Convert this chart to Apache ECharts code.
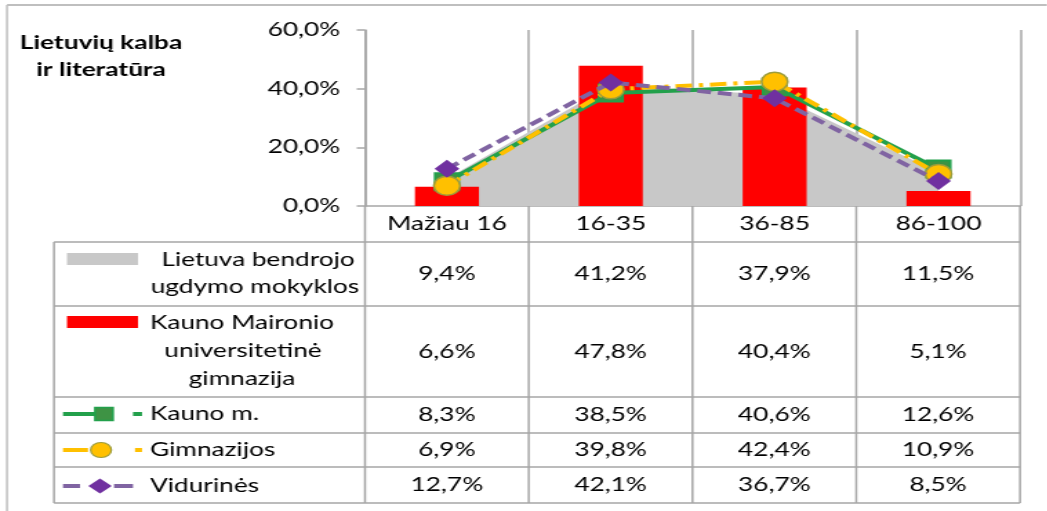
<!DOCTYPE html>
<html>
<head>
<meta charset="utf-8">
<script src="https://cdn.jsdelivr.net/npm/echarts@6/dist/echarts.min.js"></script>
<style>
html,body{margin:0;padding:0;background:#fff;overflow:hidden;}
#wrap{width:1047px;height:511px;overflow:hidden;position:relative;}
#chart{height:511px;transform-origin:0 0;}
</style>
</head>
<body>
<div id="wrap"><div id="chart"></div></div>
<script>
// ---- data ----
const categories = ['Mažiau 16', '16-35', '36-85', '86-100'];
const lietuva = [9.4, 41.2, 37.9, 11.5];
const maironio = [6.6, 47.8, 40.4, 5.1];
const kaunoM = [8.3, 38.5, 40.6, 12.6];
const gimnazijos = [6.9, 39.8, 42.4, 10.9];
const vidurines = [12.7, 42.1, 36.7, 8.5];
const yTicks = [0, 20, 40, 60];
const seriesNames = ['Lietuva bendrojo ugdymo mokyklos', 'Kauno Maironio universitetinė gimnazija', 'Kauno m.', 'Gimnazijos', 'Vidurinės'];
const titleLines = ['Lietuvių kalba', 'ir literatūra'];

// ---- layout (horizontal stretch like the reference) ----
const S = 1.38;
const W = 1047, H = 511;
const WL = W / S;
const L = x => x / S;
const el = document.getElementById('chart');
el.style.width = WL + 'px';
el.style.transform = 'scaleX(' + S + ')';

const FONT = 'Lato';
const fs = 19;
const gridColor = '#a6a6a6';
const gridLeft = L(365), gridRight = L(1020);
const plotTop = 30, plotBottom = 206;

const fmt = v => v.toFixed(1).replace('.', ',') + '%';

const chart = echarts.init(el, null, {renderer: 'canvas'});

const option = {
  animation: false,
  backgroundColor: '#fff',
  grid: {left: gridLeft, right: WL - gridRight, top: plotTop, bottom: H - plotBottom, containLabel: false},
  xAxis: {
    type: 'category', data: categories, boundaryGap: true,
    axisLine: {show: true, lineStyle: {color: gridColor, width: 1.5}},
    axisTick: {show: false},
    axisLabel: {color: '#000', fontFamily: FONT, fontSize: fs, margin: 8},
    splitLine: {show: true, lineStyle: {color: gridColor, width: 1.5}}
  },
  yAxis: {
    type: 'value', min: yTicks[0], max: yTicks[yTicks.length - 1], interval: 20,
    axisLine: {show: true, lineStyle: {color: gridColor, width: 1.5}},
    axisTick: {show: true, length: 6, lineStyle: {color: gridColor, width: 1.5}},
    axisLabel: {color: '#000', fontFamily: FONT, fontSize: fs, margin: 18, formatter: v => fmt(v)},
    splitLine: {show: false}
  },
  series: [
    {name: seriesNames[0], type: 'line', data: lietuva, symbol: 'none', z: 1,
     lineStyle: {width: 0, opacity: 0}, areaStyle: {color: '#c8c8c8', opacity: 1}},
    {name: seriesNames[1], type: 'bar', data: maironio, barWidth: L(64), z: 2,
     itemStyle: {color: '#ff0000'}},
    {name: seriesNames[2], type: 'line', data: kaunoM, z: 3, symbol: 'rect', symbolSize: 17,
     lineStyle: {color: '#22a04b', width: 4},
     itemStyle: {color: '#3e9344', borderColor: '#22a04b', borderWidth: 2}},
    {name: seriesNames[3], type: 'line', data: gimnazijos, z: 4, symbol: 'circle', symbolSize: 19,
     lineStyle: {color: '#ffc000', width: 4, type: [12, 5, 3, 5]},
     itemStyle: {color: '#ffc000', borderColor: '#9c9c3c', borderWidth: 1.5}},
    {name: seriesNames[4], type: 'line', data: vidurines, z: 5, symbol: 'diamond', symbolSize: 18,
     lineStyle: {color: '#8064a2', width: 4, type: [10, 5]},
     itemStyle: {color: '#7030a0'}}
  ],
  graphic: []
};

// ---- table & decorations ----
const g = [];
const line = (x1, y1, x2, y2, stroke, lw) => g.push({type: 'line', silent: true, z: 10,
  shape: {x1, y1, x2, y2}, style: {stroke, lineWidth: lw}});
const text = (t, x, y, align, bold) => g.push({type: 'text', silent: true, z: 11, x, y,
  style: {text: t, fill: '#000', font: (bold ? 'bold ' : '') + fs + 'px ' + FONT,
          textAlign: align, textVerticalAlign: 'middle', align: align, verticalAlign: 'middle'}});

// outer border
line(L(7), 5, WL, 5, '#bfbfbf', 2);
line(L(7), 5, L(7), H, '#bfbfbf', 1.5);

// title
text(titleLines[0], L(101), 43, 'center', true);
text(titleLines[1], L(101), 70, 'center', true);

// table rows
const rowY = [242, 306, 397, 433, 467, 503];
const tableLeft = L(54);
rowY.forEach(y => line(tableLeft, y, gridRight, y, gridColor, 1.5));
line(tableLeft, rowY[0], tableLeft, rowY[rowY.length - 1], gridColor, 1.5);
const cw = (gridRight - gridLeft) / categories.length;
for (let i = 0; i <= categories.length; i++) {
  const x = gridLeft + i * cw;
  line(x, plotBottom, x, rowY[rowY.length - 1], gridColor, 1.5);
}
// values
const tableData = [lietuva, maironio, kaunoM, gimnazijos, vidurines];
tableData.forEach((arr, r) => {
  const yc = (rowY[r] + rowY[r + 1]) / 2;
  arr.forEach((v, c) => text(fmt(v), gridLeft + (c + 0.5) * cw, yc, 'center'));
});

// legend keys & names
g.push({type: 'rect', silent: true, z: 11, shape: {x: L(67), y: 253, width: L(71), height: 12}, style: {fill: '#c8c8c8'}});
text('Lietuva bendrojo', L(258), 260, 'center');
text('ugdymo mokyklos', L(255), 287, 'center');
g.push({type: 'rect', silent: true, z: 11, shape: {x: L(67), y: 316, width: L(71), height: 12}, style: {fill: '#ff0000'}});
text('Kauno Maironio', L(242), 323, 'center');
text('universitetinė', L(243), 351, 'center');
text('gimnazija', L(242), 379, 'center');

// Kauno m.
let y = 414;
line(L(63), y, L(97), y, '#22a04b', 4);
g.push({type: 'rect', silent: true, z: 12, shape: {x: L(104) - 6.5, y: y - 6.5, width: 13, height: 13}, style: {fill: '#3e9344', stroke: '#22a04b', lineWidth: 1.5}});
line(L(133), y, L(142), y, '#22a04b', 4);
text(seriesNames[2], L(150), y, 'left');
// Gimnazijos
y = 450;
line(L(63), y, L(88), y, '#ffc000', 4);
g.push({type: 'circle', silent: true, z: 12, shape: {cx: L(101), cy: y, r: 7.5}, style: {fill: '#ffc000', stroke: '#9c9c3c', lineWidth: 1.2}});
line(L(135), y, L(142), y, '#ffc000', 4);
text(seriesNames[3], L(150), y, 'left');
// Vidurinės
y = 486;
line(L(63), y, L(80), y, '#8064a2', 4);
line(L(114), y, L(133), y, '#8064a2', 4);
const dx = 8.5, dy = 7.5, cx = L(100);
g.push({type: 'polygon', silent: true, z: 12, shape: {points: [[cx, y - dy], [cx + dx, y], [cx, y + dy], [cx - dx, y]]}, style: {fill: '#7030a0'}});
text(seriesNames[4], L(150), y, 'left');

option.graphic = g;
chart.setOption(option);
</script>
</body>
</html>
